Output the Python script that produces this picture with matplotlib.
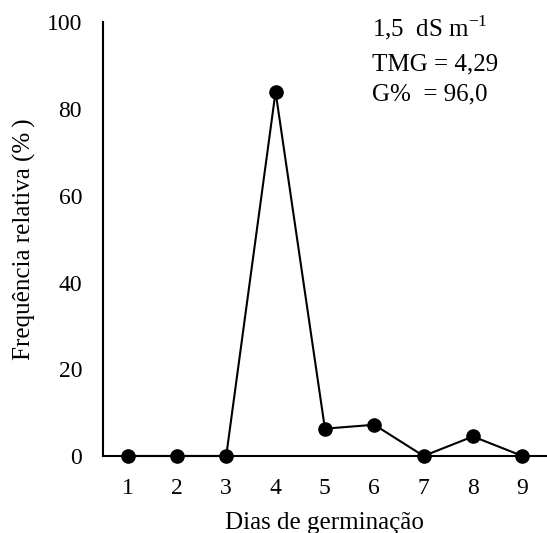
import matplotlib.pyplot as plt

plt.rcParams['font.family'] = ['Liberation Serif', 'DejaVu Serif']
plt.rcParams['mathtext.fontset'] = 'custom'
plt.rcParams['mathtext.rm'] = 'Liberation Serif'

# Dados
dias = [1, 2, 3, 4, 5, 6, 7, 8, 9]
frequencia = [0, 0, 0, 84.0, 6.3, 7.2, 0, 4.5, 0]
xticks = [1, 2, 3, 4, 5, 6, 7, 8, 9]
yticks = [0, 20, 40, 60, 80, 100]

fig = plt.figure(figsize=(5.47, 5.33), dpi=100)
ax = fig.add_axes([0.188, 0.1445, 0.812, 0.8135])

ax.plot(dias, frequencia, color='black', lw=1.5, marker='o', markersize=9.5,
        clip_on=False, zorder=3)

ax.set_xlim(0.5, 9.5)
ax.set_ylim(0, 100)
ax.set_xticks(xticks)
ax.set_yticks(yticks)
ax.tick_params(length=0, labelsize=17, colors='black')
ax.tick_params(axis='x', pad=15.5)
ax.tick_params(axis='y', pad=15)

for s in ['top', 'right']:
    ax.spines[s].set_visible(False)
for s in ['left', 'bottom']:
    ax.spines[s].set_linewidth(1.5)
    ax.spines[s].set_color('black')

ax.set_xlabel('Dias de germinação', fontsize=18, labelpad=10)
ax.set_ylabel('Frequência relativa (%\u2009)', fontsize=18, labelpad=8)

ax.text(0.606, 0.967, r'1,5  dS m$^{\mathregular{-1}}$', transform=ax.transAxes,
        fontsize=18, va='baseline', ha='left')
ax.text(0.606, 0.890, 'TMG = 4,29', transform=ax.transAxes,
        fontsize=18, va='baseline', ha='left')
ax.text(0.606, 0.821, 'G%  = 96,0', transform=ax.transAxes,
        fontsize=18, va='baseline', ha='left')

fig.savefig('out.png', dpi=100)
